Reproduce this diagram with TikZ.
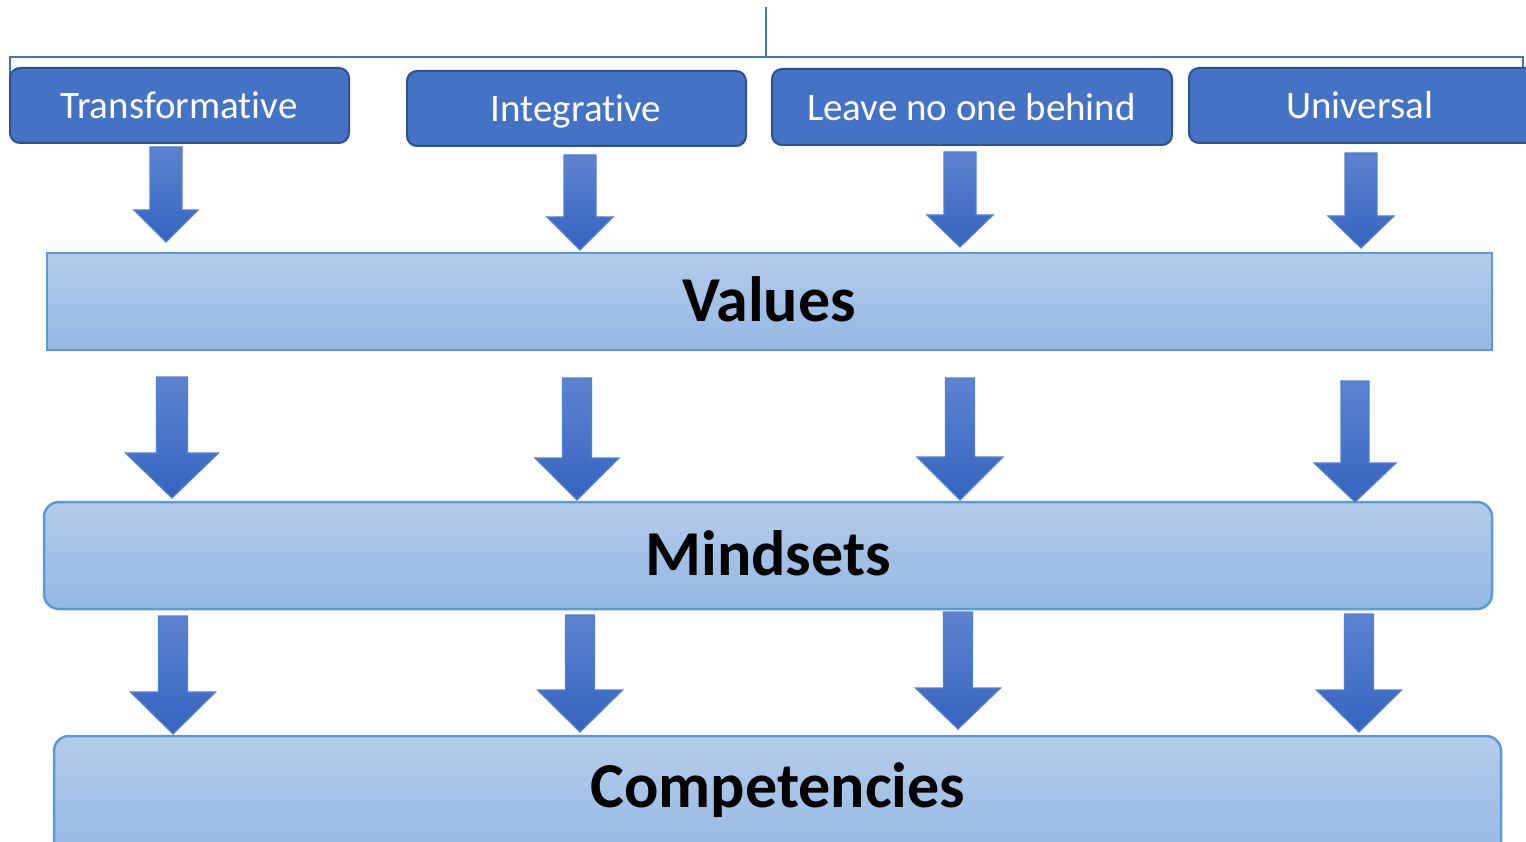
\documentclass[tikz,border=0pt]{standalone}
\usepackage{fontspec}
\setmainfont[RawFeature={-liga;-clig;-calt;-dlig;-rlig}]{Carlito}
\definecolor{topfill}{HTML}{4472C4}
\definecolor{topedge}{HTML}{2F528F}
\definecolor{bandtop}{HTML}{B4CCEA}
\definecolor{bandbot}{HTML}{93B7E3}
\definecolor{bandedge}{HTML}{5B9BD5}
\definecolor{arrtop}{HTML}{5D83D0}
\definecolor{arrbot}{HTML}{3464BF}
\definecolor{arredge}{HTML}{4F80D4}
\definecolor{brk}{HTML}{4472C4}
\newcommand\blockarr[6]{%
  \draw[arrowsty] (#1-#5,#2) -- (#1+#5,#2) -- (#1+#5,#3) -- (#1+#6,#3) -- (#1,#4) -- (#1-#6,#3) -- (#1-#5,#3) -- cycle;}
\tikzset{
  topbox/.style={draw=topedge, line width=2pt, fill=topfill, rounded corners=10pt, inner sep=0pt, anchor=center},
  toptext/.style={text=white, font=\fontsize{39}{47}\selectfont, inner sep=0pt, anchor=base},
  band/.style={draw=bandedge, line width=2.5pt, top color=bandtop, bottom color=bandbot, inner sep=0pt},
  bandtext/.style={font=\fontsize{64}{76}\selectfont\bfseries, text=black, inner sep=0pt, anchor=base},
  arrowsty/.style={top color=arrtop, bottom color=arrbot, draw=arredge, line width=1.2pt},
  bracket/.style={draw=brk, line width=2pt}
}
\begin{document}
\begin{tikzpicture}[x=1pt,y=-1pt]
\useasboundingbox (0,0) rectangle (1526,842);
\clip (0,0) rectangle (1526,842);
\fill[white] (0,0) rectangle (1526,842);
% bracket
\coordinate (bl) at (10,108);
\coordinate (bul) at (10,57);
\coordinate (bur) at (1523,57);
\coordinate (br) at (1523,72);
\coordinate (stemtop) at (766,7);
\coordinate (stembot) at (766,57);
\draw[bracket] (bl) -- (bul) -- (bur) -- (br);
\draw[bracket] (stemtop) -- (stembot);
% top boxes
\node[topbox, minimum width=339pt, minimum height=75pt] (tr) at (179.5,105.5) {};
\node[toptext] (trtext) at (179,119) {Transformat\kern0pt ive};
\node[topbox, minimum width=339pt, minimum height=75pt] (in) at (576.5,108.5) {};
\node[toptext] (intext) at (576,122) {Integrat\kern0pt ive};
\node[topbox, minimum width=400pt, minimum height=76pt] (lv) at (972,107) {};
\node[toptext] (lvtext) at (971.5,121) {Leave no one behind};
\node[topbox, minimum width=346pt, minimum height=75pt] (un) at (1362,105.5) {};
\node[toptext] (untext) at (1359.5,119) {Universal};
% bands
\node[band, minimum width=1445pt, minimum height=97pt] (val) at (769.5,301.5) {};
\node[bandtext] (valtext) at (769,322) {Values};
\node[band, rounded corners=15pt, minimum width=1448pt, minimum height=107pt] (mind) at (768,555.5) {};
\node[bandtext] (mindtext) at (768,575) {Mindsets};
\node[band, rounded corners=15pt, minimum width=1447pt, minimum height=130pt] (comp) at (777.5,801) {};
\node[bandtext] (comptext) at (778,807) {Competencies};
% arrows row 1
\blockarr{166}{147}{210}{242}{16}{32}
\blockarr{580}{155}{217}{250}{16}{33}
\blockarr{960}{152}{215}{247}{16}{33}
\blockarr{1361}{153}{216}{248}{16}{33}
% arrows row 2
\blockarr{172}{377}{453}{498}{15.5}{46.5}
\blockarr{577}{378}{458}{500}{14.5}{42}
\blockarr{960}{378}{457}{500}{14.5}{43}
\blockarr{1355}{381}{463}{502}{14}{41}
% arrows row 3
\blockarr{173}{616}{692}{734}{14.5}{42.5}
\blockarr{580}{615}{690}{732}{14.5}{42.5}
\blockarr{958}{612}{688}{729}{14.5}{42.5}
\blockarr{1359}{614}{690}{732}{14.5}{42.5}
\end{tikzpicture}
\end{document}
